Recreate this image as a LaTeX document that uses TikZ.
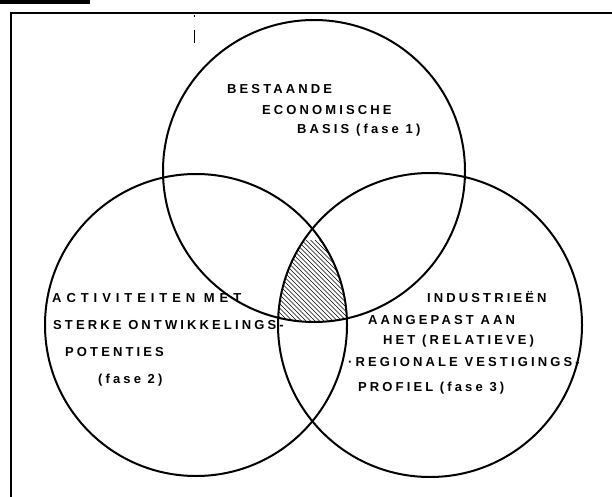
\documentclass[tikz,border=0pt]{standalone}
\usepackage{fontspec}
\setmainfont{Liberation Sans}
\usetikzlibrary{positioning}

\begin{document}
\begin{tikzpicture}[x=1pt,y=-1pt,
                    ring/.style={line width=2pt},
                    hatch/.style={line width=0.6pt},
                    lbl/.style={anchor=west,inner sep=0pt,
                      font=\bfseries\fontsize{13}{15}\selectfont\addfontfeature{LetterSpace=24}},
                    wide lbl/.style={lbl,
                      font=\bfseries\fontsize{13}{15}\selectfont\addfontfeature{LetterSpace=38}}
                   ]
  \useasboundingbox (0,0) rectangle (612,497);
  % frame and scan marks
  \fill (0,0) rectangle (90,4);
  \draw[line width=2pt] (11,497) -- (11,13) -- (612,13);
  \draw[line width=0.7pt] (194,15) -- (194,17) (194,30) -- (194,43);
  % the three sets
  \coordinate (basis) at (314,171);
  \coordinate (pot)   at (196,325);
  \coordinate (prof)  at (430,325);
  % common part, hatched
  \begin{scope}
    \clip (basis) circle (151);
    \clip (pot) circle (151);
    \clip (prof) circle (152);
    \foreach \k in {180,184.5,...,360}
      \draw[hatch] (\k,240) -- ++(100,100);
  \end{scope}
  \draw[ring] (basis) circle (151);
  \draw[ring] (pot) circle (151);
  \draw[ring] (prof) circle (152);
  % texts
  \node[lbl] (b1) at (227,89)  {BESTAANDE};
  \node[lbl] (b2) at (262,110) {ECONOMISCHE};
  \node[lbl] (b3) at (297,130) {BASIS (fase 1)};
  \node[wide lbl] (p1) at (52,298)  {ACTIVITEITEN MET};
  \node[lbl] (p2) at (53,325)  {STERKE ONTWIKKELINGS-};
  \node[lbl] (p3) at (65,352)  {POTENTIES};
  \node[lbl] (p4) at (98,380)  {(fase 2)};
  \node[lbl] (r1) at (427,297) {INDUSTRIEËN};
  \node[lbl] (r2) at (368,320) {AANGEPAST AAN};
  \node[lbl] (r3) at (383,341) {HET (RELATIEVE)};
  \node[lbl] (r4) at (348,362) {·REGIONALE VESTIGINGS-};
  \node[lbl] (r5) at (358,388) {PROFIEL (fase 3)};
\end{tikzpicture}
\end{document}
